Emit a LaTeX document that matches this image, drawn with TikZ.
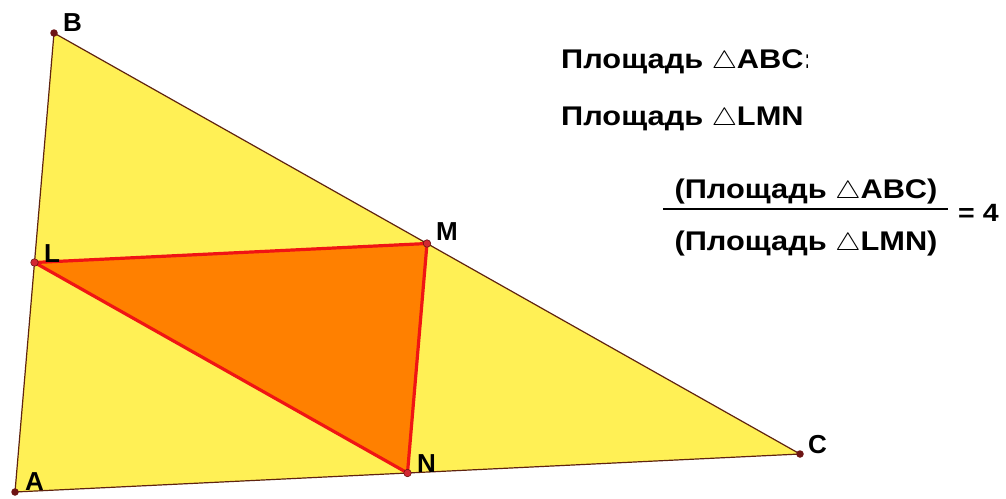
\documentclass[tikz,border=0pt]{standalone}
\usepackage{fontspec}
\usepackage{graphicx}
\setmainfont{Liberation Sans}
\newcommand{\widetxt}[1]{\scalebox{1.14}[1]{#1}}
\begin{document}
\begin{tikzpicture}[x=1pt,y=-1pt,
  vlabel/.style={font=\fontsize{26}{26}\selectfont\bfseries, anchor=base west, inner sep=0pt},
  txt/.style={font=\fontsize{27}{28}\selectfont\bfseries, anchor=base west, inner sep=0pt},
  ptABC/.style={circle, fill=ptdark, inner sep=0pt, minimum size=7.5pt},
  ptLMN/.style={circle, fill=ptred, draw=ptdark, line width=0.6pt, inner sep=0pt, minimum size=7.5pt},
  outer/.style={draw=edgebrown, line width=1.2pt, fill=triyellow},
  inner/.style={draw=linered, line width=3.2pt, fill=triorange, line join=round}]
\definecolor{triyellow}{RGB}{255,240,85}
\definecolor{triorange}{RGB}{255,128,0}
\definecolor{linered}{RGB}{240,20,20}
\definecolor{edgebrown}{RGB}{95,35,15}
\definecolor{ptdark}{RGB}{110,20,20}
\definecolor{ptred}{RGB}{210,40,50}
\useasboundingbox[fill=white] (0,0) rectangle (1006,498);
\coordinate (A) at (15,492);
\coordinate (B) at (54,33);
\coordinate (C) at (800,454);
\coordinate (L) at (34.5,262.5);
\coordinate (M) at (427,243.5);
\coordinate (N) at (407.5,473);
\draw[outer] (A) -- (B) -- (C) -- cycle;
\draw[inner] (L) -- (M) -- (N) -- cycle;
\node[ptABC] (pA) at (A) {};
\node[ptABC] (pB) at (B) {};
\node[ptABC] (pC) at (C) {};
\node[ptLMN] (pL) at (L) {};
\node[ptLMN] (pM) at (M) {};
\node[ptLMN] (pN) at (N) {};
\node[vlabel] (lA) at (25,490) {A};
\node[vlabel] (lB) at (63,31) {B};
\node[vlabel] (lC) at (808,453) {C};
\node[vlabel] (lL) at (44,262) {L};
\node[vlabel] (lM) at (436,240) {M};
\node[vlabel] (lN) at (417,472) {N};
\node[txt] (t1) at (561,68) {\widetxt{Площадь $\triangle$ABC:}};
\fill[white] (808,40) rectangle (1006,75);
\node[txt] (t2) at (561,125) {\widetxt{Площадь $\triangle$LMN}};
\node[txt, anchor=base] (num) at (806,198) {\widetxt{(Площадь $\triangle$ABC)}};
\node[txt, anchor=base] (den) at (806,250) {\widetxt{(Площадь $\triangle$LMN)}};
\draw[line width=1.2pt] (663,209) -- (948,209);
\node[txt, font=\fontsize{25}{26}\selectfont\bfseries] (eq) at (958,221) {\widetxt{= 4}};
\end{tikzpicture}
\end{document}
